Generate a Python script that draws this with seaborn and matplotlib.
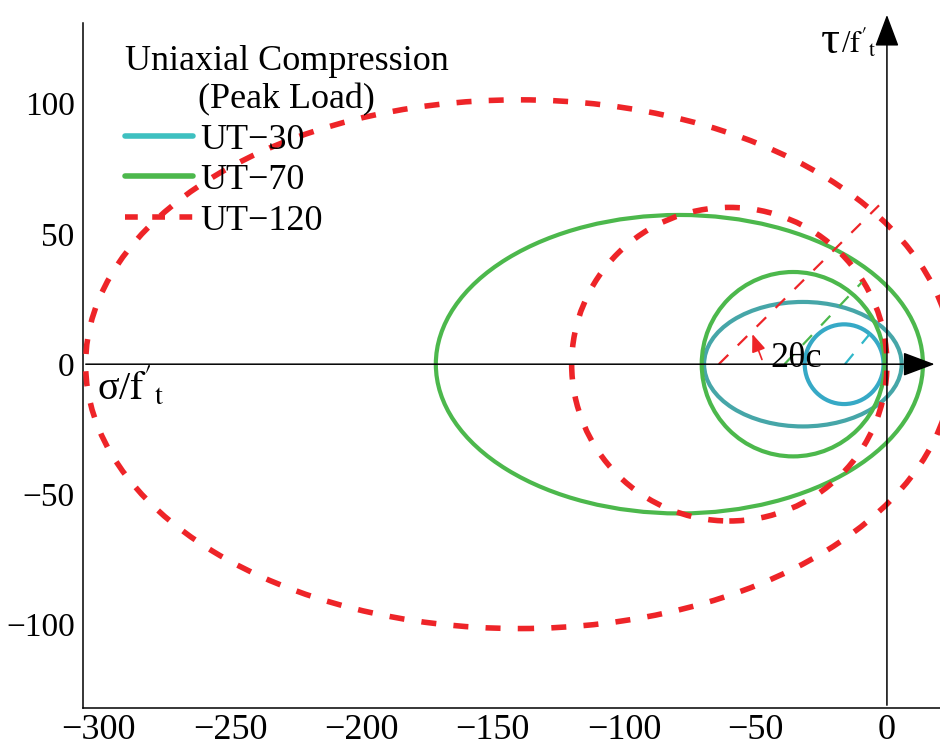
import matplotlib
matplotlib.use("Agg")
import matplotlib.pyplot as plt
from matplotlib.patches import Ellipse, FancyArrowPatch
from matplotlib.lines import Line2D
import seaborn as sns
import pandas as pd

# ---------------- data ----------------
series_names = ["UT\u221230", "UT\u221270", "UT\u2212120"]
series_colors = ["#3EC0C0", "#4CB84C", "#EE2428"]

# Mohr-type envelopes: centre on sigma axis, half-width, half-height
env_series = ["UT\u221230", "UT\u221230", "UT\u221270", "UT\u221270", "UT\u2212120", "UT\u2212120"]
env_center = [-16.3, -32.0, -35.7, -79.0, -60.0, -140.0]
env_half_w = [15.0, 37.6, 34.8, 92.7, 60.0, 165.0]
env_half_h = [15.3, 23.9, 35.4, 57.3, 60.2, 101.5]
env_colors = ["#36A9C6", "#46A6A8", "#4CB84C", "#4CB84C", "#EE2428", "#EE2428"]

# 2-theta_c failure-plane lines (start / end points)
theta_x0 = [-16.0, -39.0, -64.0]
theta_y0 = [0.0, 0.0, 0.0]
theta_x1 = [-5.0, -9.5, -3.0]
theta_y1 = [13.5, 31.5, 61.0]
theta_colors = ["#2FB7C9", "#4CB84C", "#EE2428"]

arrow_start = (-47.2, 0.8)
arrow_end = (-51.6, 12.6)

xticks = [-300, -250, -200, -150, -100, -50, 0]
yticks = [-100, -50, 0, 50, 100]
xlim = (-306.0, 20.2)
ylim = (-132.0, 131.0)

# ---------------- style ----------------
sns.set_style("white")
plt.rcParams["font.family"] = ["Liberation Serif", "DejaVu Serif"]
plt.rcParams["mathtext.fontset"] = "stix"
plt.rcParams["axes.unicode_minus"] = True
plt.rcParams["text.color"] = "black"
plt.rcParams["xtick.color"] = "black"
plt.rcParams["ytick.color"] = "black"
plt.rcParams["xtick.labelcolor"] = "black"
plt.rcParams["ytick.labelcolor"] = "black"

fig = plt.figure(figsize=(9.4, 7.48), dpi=100)
ax = fig.add_axes([83 / 940, 40 / 748, 1 - 83 / 940, 685 / 748])
ax.set_xlim(*xlim)
ax.set_ylim(*ylim)

# envelopes
for cx, a, b, col, name in zip(env_center, env_half_w, env_half_h, env_colors, env_series):
    if name == "UT\u2212120":
        e = Ellipse((cx, 0), 2 * a, 2 * b, fill=False, edgecolor=col, lw=4.0,
                    linestyle=(0, (2.7, 3.1)), zorder=4)
    else:
        e = Ellipse((cx, 0), 2 * a, 2 * b, fill=False, edgecolor=col, lw=3.0, zorder=3)
    ax.add_patch(e)

# failure-plane lines via seaborn
for x0, y0, x1, y1, col in zip(theta_x0, theta_y0, theta_x1, theta_y1, theta_colors):
    df = pd.DataFrame({"sigma": [x0, x1], "tau": [y0, y1]})
    sns.lineplot(data=df, x="sigma", y="tau", ax=ax, color=col, lw=1.6,
                 sort=False, estimator=None, legend=False, zorder=5,
                 linestyle=(0, (6, 6)))

# small red arrow for 2theta_c
ax.add_patch(FancyArrowPatch(arrow_start, arrow_end, arrowstyle="-|>,head_length=0.9,head_width=0.35",
                             mutation_scale=12, color="#EE2428", lw=1.2, zorder=6))
ax.text(-44.2, -1.2, "2\u03b8c", fontsize=26, ha="left", va="baseline", zorder=7)

# coordinate axes with arrows
ax.add_patch(FancyArrowPatch((0, ylim[0]), (0, 135.2), arrowstyle="-|>,head_length=2.0,head_width=0.75",
                             mutation_scale=10, color="black", lw=1.1, clip_on=False, zorder=8))
ax.add_patch(FancyArrowPatch((xlim[0], 0), (19.2, 0), arrowstyle="-|>,head_length=2.0,head_width=0.75",
                             mutation_scale=10, color="black", lw=1.1, clip_on=False, zorder=8))

ax.text(-25.0, 119.5, "\u03c4", fontsize=34, ha="left", va="baseline")
ax.text(-17.5, 119.5, r"/$\mathrm{f}'_\mathrm{t}$", fontsize=22, ha="left", va="baseline")
ax.text(-300.8, -13.5, r"σ/$\mathrm{f}'_\mathrm{t}$", fontsize=29, ha="left", va="baseline")

# ticks and spines
ax.set_xticks(xticks)
ax.set_yticks(yticks)
ax.tick_params(axis="both", direction="in", length=8, width=1.0, color="black", labelcolor="black")
ax.tick_params(axis="x", labelsize=26, pad=4)
ax.tick_params(axis="y", labelsize=24, pad=6)
for s in ["top", "right"]:
    ax.spines[s].set_visible(False)
for s in ["left", "bottom"]:
    ax.spines[s].set_color("black")
    ax.spines[s].set_linewidth(1.1)
ax.set_xlabel("")
ax.set_ylabel("")
ax.grid(False)

# legend
handles = [
    Line2D([], [], color=series_colors[0], lw=4.0),
    Line2D([], [], color=series_colors[1], lw=4.0),
    Line2D([], [], color=series_colors[2], lw=4.0, linestyle=(0, (2.3, 2.6))),
]
leg = ax.legend(handles, series_names, title="Uniaxial Compression\n(Peak Load)",
                loc="upper left", bbox_to_anchor=(0.019, 1.005), frameon=False,
                fontsize=26, title_fontsize=26, handlelength=1.9, handletextpad=0.2,
                labelspacing=0.2, borderpad=0.2, alignment="left")
leg.get_title().set_multialignment("center")
leg.set_zorder(10)
for t in leg.get_texts():
    t.set_color("black")
leg.get_title().set_color("black")

fig.savefig("out.png", dpi=100)
